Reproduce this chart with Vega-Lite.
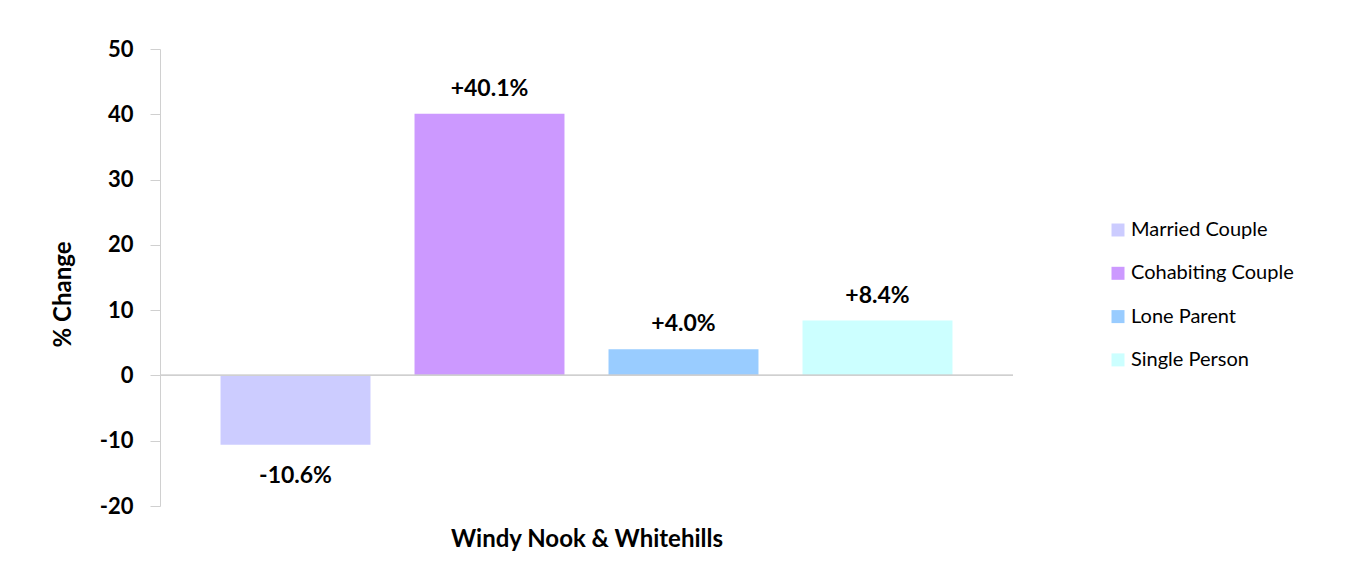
{
  "$schema": "https://vega.github.io/schema/vega-lite/v6.json",
  "width": 853,
  "height": 457,
  "autosize": {"type": "none"},
  "padding": {"left": 160, "top": 49, "right": 350, "bottom": 66},
  "background": "white",
  "config": {
    "view": {"stroke": null},
    "font": "Lato"
  },
  "data": {
    "values": [
      {"type": "Married Couple", "change": -10.6, "label": "-10.6%"},
      {"type": "Cohabiting Couple", "change": 40.1, "label": "+40.1%"},
      {"type": "Lone Parent", "change": 4.0, "label": "+4.0%"},
      {"type": "Single Person", "change": 8.4, "label": "+8.4%"}
    ]
  },
  "encoding": {
    "x": {
      "field": "type",
      "type": "nominal",
      "sort": ["Married Couple", "Cohabiting Couple", "Lone Parent", "Single Person"],
      "scale": {"paddingInner": 0.227, "paddingOuter": 0.312},
      "axis": {
        "title": "Windy Nook & Whitehills",
        "labels": false,
        "ticks": false,
        "domain": false,
        "titleFont": "Lato",
        "titleFontSize": 24,
        "titleFontWeight": "bold",
        "titleColor": "black",
        "titlePadding": 21
      }
    }
  },
  "layer": [
    {
      "mark": {"type": "bar"},
      "encoding": {
        "y": {
          "field": "change",
          "type": "quantitative",
          "scale": {"domain": [-20, 50], "nice": false},
          "axis": {
            "title": "% Change",
            "values": [-20, -10, 0, 10, 20, 30, 40, 50],
            "labelExpr": "datum.value + ''",
            "grid": false,
            "domainColor": "#d0d0d0",
            "tickColor": "#d0d0d0",
            "tickSize": 10,
            "labelPadding": 17,
            "labelFont": "Lato",
            "labelFontSize": 22,
            "labelFontWeight": "bold",
            "labelColor": "black",
            "titleFont": "Lato",
            "titleFontSize": 24,
            "titleFontWeight": "bold",
            "titleColor": "black",
            "titleX": -97,
            "titleY": 245,
            "titleBaseline": "middle",
            "titleAngle": -90
          }
        },
        "color": {
          "field": "type",
          "type": "nominal",
          "sort": ["Married Couple", "Cohabiting Couple", "Lone Parent", "Single Person"],
          "scale": {
            "domain": ["Married Couple", "Cohabiting Couple", "Lone Parent", "Single Person"],
            "range": ["#ccccff", "#cc99ff", "#99ccff", "#ccffff"]
          },
          "legend": {
            "title": null,
            "orient": "none",
            "legendX": 948,
            "legendY": 171,
            "symbolType": "square",
            "symbolSize": 169,
            "symbolStrokeWidth": 0,
            "symbolOpacity": 1,
            "labelFont": "Lato",
            "labelFontSize": 20,
            "labelColor": "black",
            "labelOffset": 3,
            "labelLimit": 400,
            "rowPadding": 23.3,
            "padding": 0
          }
        }
      }
    },
    {
      "mark": {"type": "rule", "color": "#d0d0d0", "strokeWidth": 1.2},
      "encoding": {"y": {"datum": 0, "type": "quantitative"}, "x": null}
    },
    {
      "transform": [{"filter": "datum.change >= 0"}],
      "mark": {"type": "text", "baseline": "alphabetic", "dy": -18, "fontSize": 23, "fontWeight": "bold", "font": "Lato", "color": "black"},
      "encoding": {
        "y": {"field": "change", "type": "quantitative"},
        "text": {"field": "label"}
      }
    },
    {
      "transform": [{"filter": "datum.change < 0"}],
      "mark": {"type": "text", "baseline": "alphabetic", "dy": 38, "fontSize": 23, "fontWeight": "bold", "font": "Lato", "color": "black"},
      "encoding": {
        "y": {"field": "change", "type": "quantitative"},
        "text": {"field": "label"}
      }
    }
  ]
}
